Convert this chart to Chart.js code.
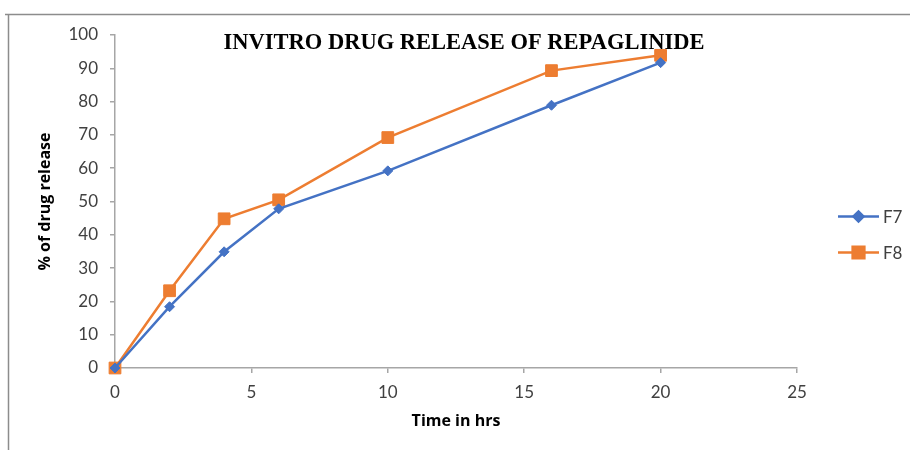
<!DOCTYPE html>
<html>
<head>
<meta charset="utf-8">
<script src="https://cdn.jsdelivr.net/npm/chart.js@4.4.1/dist/chart.umd.min.js"></script>
<style>
  html, body { margin: 0; padding: 0; background: #fff; }
  #wrap { position: relative; width: 910px; height: 450px; }
  canvas { display: block; }
</style>
</head>
<body>
<div id="wrap"><canvas id="c" width="910" height="450"></canvas></div>
<script>
// Sampling times (hours) and cumulative release (%) for the two formulations
const timeHrs = [0, 2, 4, 6, 10, 16, 20];
const releaseF7 = [0, 18.4, 34.9, 47.8, 59.2, 78.9, 91.7];
const releaseF8 = [0, 23.2, 44.8, 50.5, 69.2, 89.3, 93.9];
const seriesNames = ['F7', 'F8'];
const chartTitle = 'INVITRO DRUG RELEASE OF REPAGLINIDE';
const xTitle = 'Time in hrs';
const yTitle = '% of drug release';

const BLUE = '#4472C4';
const ORANGE = '#ED7D31';
const AXIS = '#a6a6a6';
const TEXT = '#404040';
const TICK_FONT = 'Lato, "Open Sans", sans-serif';
const LABEL_FONT = '"Open Sans", Lato, sans-serif';

const toPoints = (xs, ys) => xs.map((x, i) => ({ x: x, y: ys[i] }));

// Outer frame, the title inside the plot, and a legend with line + marker samples
const decorations = {
  id: 'decorations',
  beforeDraw(chart) {
    const ctx = chart.ctx;
    ctx.save();
    ctx.strokeStyle = '#8c8c8c';
    ctx.lineWidth = 1.5;
    ctx.beginPath();
    ctx.moveTo(5, 14.5);
    ctx.lineTo(910, 14.5);
    ctx.moveTo(8.5, 14.5);
    ctx.lineTo(8.5, 450);
    ctx.stroke();
    ctx.restore();
  },
  afterDraw(chart) {
    const ctx = chart.ctx;
    const area = chart.chartArea;
    ctx.save();
    ctx.fillStyle = '#000';
    ctx.font = 'bold 22.5px "Liberation Serif", "Times New Roman", serif';
    ctx.textAlign = 'center';
    ctx.textBaseline = 'middle';
    ctx.fillText(chartTitle, (area.left + area.right) / 2 + 8, area.top + 8);

    // legend
    const lx = area.right + 41;
    const midY = (area.top + area.bottom) / 2;
    chart.data.datasets.forEach((ds, i) => {
      const y = midY + 15 + i * 36;
      ctx.strokeStyle = ds.borderColor;
      ctx.lineWidth = ds.borderWidth;
      ctx.beginPath();
      ctx.moveTo(lx, y);
      ctx.lineTo(lx + 41, y);
      ctx.stroke();
      Chart.helpers.drawPoint(ctx, {
        pointStyle: ds.pointStyle,
        radius: ds.pointRadius,
        rotation: 0,
        borderWidth: 1
      }, lx + 20.5, y);
      ctx.fillStyle = ds.backgroundColor;
      ctx.fill();
      ctx.fillStyle = TEXT;
      ctx.font = '17px ' + TICK_FONT;
      ctx.textAlign = 'left';
      ctx.textBaseline = 'middle';
      ctx.fillText(ds.label, lx + 45, y + 1);
    });
    ctx.restore();
  }
};

new Chart(document.getElementById('c'), {
  type: 'line',
  data: {
    datasets: [
      {
        label: seriesNames[0],
        data: toPoints(timeHrs, releaseF7),
        borderColor: BLUE,
        backgroundColor: BLUE,
        borderWidth: 2.5,
        pointStyle: 'rectRot',
        pointRadius: 5,
        pointHoverRadius: 5,
        pointBorderWidth: 1,
        tension: 0
      },
      {
        label: seriesNames[1],
        data: toPoints(timeHrs, releaseF8),
        borderColor: ORANGE,
        backgroundColor: ORANGE,
        borderWidth: 2.5,
        pointStyle: 'rect',
        pointRadius: 8.3,
        pointHoverRadius: 8.3,
        pointBorderWidth: 1,
        tension: 0
      }
    ]
  },
  options: {
    responsive: false,
    animation: false,
    events: [],
    clip: false,
    layout: { padding: { left: 0, right: 113, top: 35, bottom: 0 } },
    plugins: {
      legend: { display: false },
      tooltip: { enabled: false },
      title: { display: false }
    },
    scales: {
      x: {
        type: 'linear',
        min: 0,
        max: 25,
        ticks: {
          stepSize: 5,
          color: TEXT,
          padding: 9,
          font: { family: TICK_FONT, size: 17 }
        },
        grid: {
          drawOnChartArea: false,
          drawTicks: true,
          tickLength: 5,
          color: AXIS,
          lineWidth: 1.5
        },
        border: { color: AXIS, width: 1.5 },
        title: {
          display: true,
          text: xTitle,
          color: '#000',
          padding: { top: 0, bottom: 19 },
          font: { family: LABEL_FONT, size: 16, weight: 'bold' }
        },
        afterFit(scale) { scale.height = 82; }
      },
      y: {
        min: 0,
        max: 100,
        ticks: {
          stepSize: 10,
          color: TEXT,
          padding: 12,
          font: { family: TICK_FONT, size: 17 }
        },
        grid: {
          drawOnChartArea: false,
          drawTicks: true,
          tickLength: 5,
          color: AXIS,
          lineWidth: 1.5
        },
        border: { color: AXIS, width: 1.5 },
        title: {
          display: true,
          text: yTitle,
          color: '#000',
          padding: { top: 36, bottom: 0 },
          font: { family: LABEL_FONT, size: 16, weight: 'bold' }
        },
        afterFit(scale) { scale.width = 115; }
      }
    }
  },
  plugins: [decorations]
});
</script>
</body>
</html>
